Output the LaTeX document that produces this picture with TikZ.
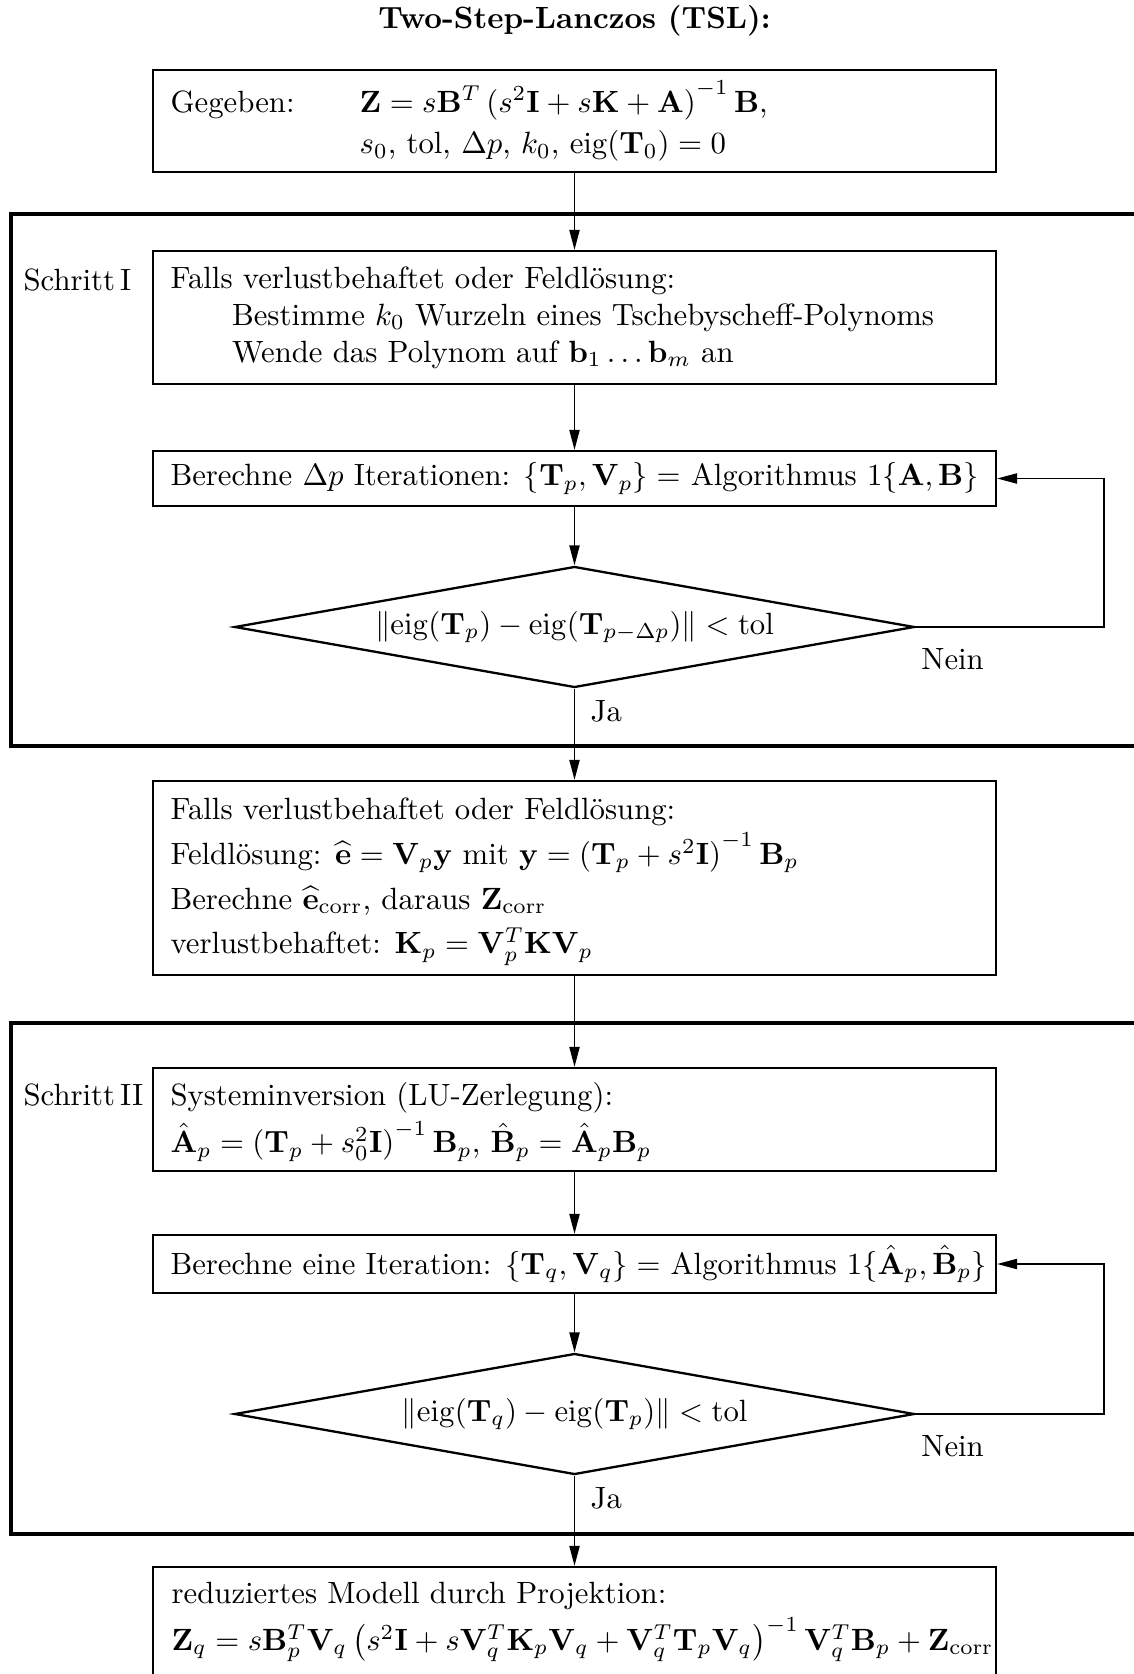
\documentclass[tikz,border=0pt]{standalone}
\usetikzlibrary{arrows.meta,shapes.geometric}
\lineskiplimit=-\maxdimen
\delimiterfactor=850
\begin{document}
\begin{tikzpicture}[x=0.3252pt,y=-0.3252pt,
  box/.style={draw,line width=0.75pt,minimum width=274.1pt,inner sep=0pt},
  txt/.style={anchor=west,align=left,inner sep=0pt},
  dec/.style={draw,line width=0.75pt,diamond,aspect=5.62,minimum width=221.1pt,minimum height=39.35pt,inner sep=0pt},
  frame/.style={line width=1.4pt},
  conn/.style={line width=0.55pt,-{Triangle[length=6.5pt,width=3.3pt]}},
  lbl/.style={inner sep=0pt}]
\useasboundingbox (0,0) rectangle (1134,1674);
\clip (0,0) rectangle (1134,1674);

\node[font=\bfseries] (title) at (574.5,21) {Two-Step-Lanczos (TSL):};

% frames
\draw[frame] (11,214) rectangle (1200,746);
\draw[frame] (11,1023) rectangle (1200,1534);

% boxes
\node[box,minimum height=33.17pt] (b1) at (574.5,121) {};
\node[box,minimum height=43.25pt] (b2) at (574.5,317.5) {};
\node[box,minimum height=17.89pt] (b3) at (574.5,478.5) {};
\node[dec] (d1) at (574.5,627) {$\|\mathrm{eig}(\mathbf{T}_p)-\mathrm{eig}(\mathbf{T}_{p-\Delta p})\| < \mathrm{tol}$};
\node[box,minimum height=63.09pt] (b4) at (574.5,878) {};
\node[box,minimum height=33.5pt] (b5) at (574.5,1119.5) {};
\node[box,minimum height=18.86pt] (b6) at (574.5,1264) {};
\node[dec] (d2) at (574.5,1414) {$\|\mathrm{eig}(\mathbf{T}_q)-\mathrm{eig}(\mathbf{T}_p)\| < \mathrm{tol}$};
\node[box,minimum height=49.76pt] (b7) at (574.5,1643.5) {};

% texts
\node[txt] (t1) at ([xshift=5.85pt]b1.west) {\makebox[61.5pt][l]{Gegeben:}$\mathbf{Z} = s\mathbf{B}^T\left(s^2\mathbf{I}+s\mathbf{K}+\mathbf{A}\right)^{-1}\mathbf{B}$,\\[1.5pt]
\hspace*{61.5pt}$s_0$, tol, $\Delta p$, $k_0$, eig$(\mathbf{T}_0) = 0$};
\node[txt] (t2) at ([xshift=5.85pt]b2.west) {Falls verlustbehaftet oder Feldlösung:\\
\hspace*{2em}Bestimme $k_0$ Wurzeln eines Tschebyscheff-Polynoms\\
\hspace*{2em}Wende das Polynom auf $\mathbf{b}_1\ldots\mathbf{b}_m$ an};
\node[txt] (t3) at ([xshift=5.85pt]b3.west) {Berechne $\Delta p$ Iterationen: $\{\mathbf{T}_p,\mathbf{V}_p\} =$ Algorithmus $1\{\mathbf{A},\mathbf{B}\}$};
\node[txt,yshift=-1.2pt] (t4) at ([xshift=5.85pt]b4.west) {Falls verlustbehaftet oder Feldlösung:\\[2.6pt]
Feldlösung: $\widehat{\mathbf{e}} = \mathbf{V}_p\mathbf{y}$ mit $\mathbf{y} = \left(\mathbf{T}_p + s^2\mathbf{I}\right)^{-1}\mathbf{B}_p$\\[2.6pt]
Berechne $\widehat{\mathbf{e}}_\mathrm{corr}$, daraus $\mathbf{Z}_\mathrm{corr}$\\[2.6pt]
verlustbehaftet: $\mathbf{K}_p = \mathbf{V}_p^T\mathbf{K}\mathbf{V}_p$};
\node[txt,yshift=-0.8pt] (t5) at ([xshift=5.85pt]b5.west) {Systeminversion (LU-Zerlegung):\\[3.3pt]
$\hat{\mathbf{A}}_p = \left(\mathbf{T}_p + s_0^2\mathbf{I}\right)^{-1}\mathbf{B}_p$, $\hat{\mathbf{B}}_p = \hat{\mathbf{A}}_p\mathbf{B}_p$};
\node[txt] (t6) at ([xshift=5.85pt]b6.west) {Berechne eine Iteration: $\{\mathbf{T}_q,\mathbf{V}_q\} =$ Algorithmus $1\{\hat{\mathbf{A}}_p,\hat{\mathbf{B}}_p\}$};
\node[txt] (t7) at (171,1622) {reduziertes Modell durch Projektion:\\[3.3pt]
$\mathbf{Z}_q = s\mathbf{B}_p^T\mathbf{V}_q\left(s^2\mathbf{I} + s\mathbf{V}_q^T\mathbf{K}_p\mathbf{V}_q + \mathbf{V}_q^T\mathbf{T}_p\mathbf{V}_q\right)^{-1}\mathbf{V}_q^T\mathbf{B}_p + \mathbf{Z}_\mathrm{corr}$};

% labels
\node[lbl,anchor=base west] (s1) at (23,291) {Schritt\,I};
\node[lbl,anchor=base west] (s2) at (23,1105) {Schritt\,II};
\node[lbl] (n1) at ([shift={(37,32)}]d1.east) {Nein};
\node[lbl] (n2) at ([shift={(37,32)}]d2.east) {Nein};

\coordinate (r1) at (1104,627);
\coordinate (r2) at (1104,1414);

% connectors
\draw[conn] (b1) -- (b2);
\draw[conn] (b2) -- (b3);
\draw[conn] (b3) -- (d1);
\draw[conn] (d1) -- node[pos=0.25,anchor=west,xshift=5pt,inner sep=0pt] (j1) {Ja} (b4);
\draw[conn] (d1.east) -- (r1) |- (b3.east);
\draw[conn] (b4) -- (b5);
\draw[conn] (b5) -- (b6);
\draw[conn] (b6) -- (d2);
\draw[conn] (d2) -- node[pos=0.25,anchor=west,xshift=5pt,inner sep=0pt] (j2) {Ja} (b7);
\draw[conn] (d2.east) -- (r2) |- (b6.east);
\end{tikzpicture}
\end{document}
